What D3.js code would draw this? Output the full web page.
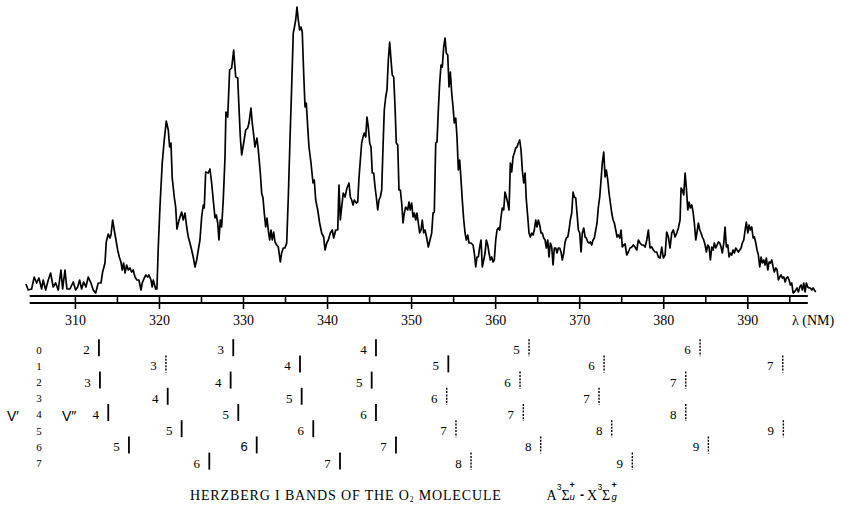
<!DOCTYPE html>
<html><head><meta charset="utf-8">
<script src="https://cdn.jsdelivr.net/npm/d3@7"></script>
<style>body{margin:0;background:#fff} svg{display:block}</style>
</head><body><svg id="chart" width="841" height="520"></svg>
<script>
// ---- DATA ----
const wavelength = [
304.17,304.45,304.85,305.16,305.45,305.72,306.04,306.23,306.52,306.83,
307.11,307.42,307.71,308.02,308.34,308.54,308.82,309.05,309.41,309.80,
310.09,310.33,310.56,310.80,311.04,311.31,311.59,311.91,312.18,312.47,
312.78,313.10,313.30,313.58,313.73,313.97,314.17,314.29,314.49,314.68,
314.85,315.09,315.28,315.48,315.63,315.80,315.96,316.16,316.35,316.55,
316.75,316.94,317.15,317.38,317.62,317.86,318.01,318.25,318.45,318.66,
318.81,319.05,319.20,319.32,319.61,319.76,319.92,320.12,320.39,320.63,
320.87,321.11,321.27,321.43,321.58,321.82,321.99,322.14,322.30,322.50,
322.70,322.89,323.10,323.30,323.49,323.69,323.89,324.08,324.29,324.49,
324.68,324.88,325.08,325.27,325.39,325.56,325.87,326.07,326.27,326.46,
326.67,326.82,326.99,327.14,327.30,327.46,327.65,327.86,
327.97,328.18,328.41,328.65,328.89,329.13,329.37,329.52,329.68,329.84,
330.08,330.32,330.56,330.71,330.95,331.10,331.27,331.42,331.66,331.82,
332.06,332.22,332.38,332.53,332.70,332.85,333.01,333.17,333.33,333.48,
333.65,333.81,334.01,334.20,334.44,334.60,334.79,334.99,335.20,335.39,
335.59,335.79,335.98,336.10,336.27,336.42,336.58,336.74,336.90,337.05,
337.22,337.38,337.53,337.70,337.85,338.09,338.33,338.48,338.65,338.89,
339.12,339.36,339.60,339.76,339.96,340.15,340.39,340.62,340.79,341.03,
341.27,341.42,341.58,341.74,341.93,342.14,342.37,342.61,342.77,342.93,
343.09,343.24,343.48,343.65,343.80,343.96,344.12,344.28,344.43,344.60,
344.75,344.91,345.07,345.23,345.38,345.55,345.71,345.86,346.03,346.18,
346.34,346.50,346.66,346.81,346.98,347.13,347.29,347.45,347.61,347.76,
347.93,348.09,348.24,348.41,348.56,348.72,348.88,349.04,349.19,349.36,
349.60,349.75,349.90,350.07,350.23,350.38,350.55,350.70,350.86,351.02,
351.18,351.33,351.50,351.66,351.86,352.05,352.25,352.45,352.61,352.76,
352.93,353.08,353.24,353.40,353.56,353.71,353.88,354.04,354.19,354.36,
354.51,354.67,354.83,354.99,355.14,355.31,355.46,355.62,355.78,355.94,
356.09,356.26,356.42,356.57,356.74,356.89,357.13,357.37,357.52,357.69,
357.84,358.00,358.16,358.32,358.47,358.64,358.80,358.95,359.12,359.27,
359.43,359.59,359.75,359.90,360.07,360.22,360.38,360.54,360.70,360.85,
361.02,361.17,361.33,361.50,361.65,361.81,361.97,362.13,362.28,362.45,
362.60,362.76,362.92,363.08,363.23,363.40,363.56,363.71,363.88,364.03,
364.19,364.35,364.51,364.66,364.83,364.98,365.14,365.30,365.46,365.61,
365.78,365.94,366.09,366.26,366.41,366.57,366.73,366.89,367.04,367.21,
367.36,367.52,367.68,367.84,367.99,368.16,368.32,368.47,368.64,368.79,
368.94,369.11,369.27,369.42,369.59,369.74,369.90,370.06,370.22,370.37,
370.54,370.70,370.85,371.02,371.17,371.33,371.49,371.65,371.80,371.97,
372.12,372.28,372.44,372.60,372.75,372.92,373.08,373.23,373.40,373.55,
373.71,373.87,374.03,374.18,374.35,374.50,374.66,374.82,374.98,375.13,
375.30,375.46,375.66,375.85,376.05,376.26,376.44,376.64,376.85,377.04,
377.24,377.44,377.63,377.84,378.04,378.23,378.43,378.63,378.82,379.02,
379.22,379.42,379.62,379.82,380.01,380.22,380.41,380.61,380.81,381.01,
381.20,381.41,381.61,381.80,382.00,382.12,382.27,382.44,382.60,382.75,
382.92,383.07,383.23,383.39,383.55,383.70,383.87,384.02,384.18,384.34,
384.50,384.65,384.82,384.98,385.13,385.30,385.45,385.61,385.77,385.93,
386.08,386.25,386.40,386.56,386.72,386.88,387.03,387.20,387.35,387.51,
387.68,387.83,387.99,388.15,388.31,388.46,388.63,388.78,388.94,389.10,
389.26,389.41,389.58,389.74,389.89,390.06,390.21,390.37,390.53,390.69,
390.84,391.01,391.16,391.32,391.48,391.64,391.79,391.96,392.12,392.27,
392.44,392.59,392.74,392.91,393.07,393.22,393.39,393.54,393.70,393.86,
394.02,394.17,394.34,394.50,394.65,394.82,394.97,395.13,395.29,395.45,
395.60,395.77,395.92,396.08,396.24,396.40,396.55,396.72,396.87,397.03,
397.19,397.35,397.50,397.67,397.83,397.98,398.14
];
const intensity = [
12,6,7,19,13,18,7,16,6,16,
23,9,13,6,26,7,26,7,7,14,
6,9,16,7,14,9,19,13,6,3,
13,13,24,33,54,62,58,61,76,66,
58,46,39,34,26,33,23,31,26,28,
24,26,19,16,16,6,13,18,21,19,
21,16,9,16,7,7,49,89,133,156,
175,166,149,153,118,99,89,67,73,79,
84,76,83,69,59,53,46,39,29,36,
46,56,79,91,88,124,123,127,113,96,
78,81,73,56,76,69,96,139,
184,179,226,228,246,219,218,189,159,141,
153,166,168,173,188,173,161,149,158,146,
123,103,98,83,69,78,66,56,66,56,
64,54,51,49,34,43,48,48,53,99,
156,209,263,268,276,289,276,266,269,264,
223,189,193,169,149,133,113,116,96,86,
73,63,59,46,53,56,63,66,58,66,
66,111,76,89,103,99,108,113,99,96,
91,96,93,94,118,136,153,159,163,159,
179,169,153,149,123,123,109,99,86,96,
99,106,149,186,199,206,236,254,236,221,
219,189,153,151,106,106,93,73,83,89,
86,94,86,93,79,83,76,83,73,63,
66,76,63,66,58,49,56,63,83,84,
153,154,186,213,231,229,249,258,243,241,
209,224,203,189,173,178,159,126,136,116,
96,76,63,56,61,53,53,51,43,29,
39,39,49,56,29,36,43,56,51,43,
36,39,34,36,56,66,68,66,79,88,
86,104,99,93,86,133,124,139,143,148,
149,153,156,146,126,113,123,96,79,63,
59,63,61,66,76,69,76,71,63,63,
58,56,48,56,39,53,49,31,48,48,
43,48,48,44,36,43,54,58,59,66,
76,83,104,99,98,83,66,63,44,63,
68,59,58,54,53,54,51,56,58,66,
73,89,99,116,133,144,119,126,116,103,
93,83,76,73,66,59,61,58,66,49,
51,52,41,44,48,49,51,49,46,56,
53,51,51,49,56,66,48,49,46,44,
44,39,38,49,38,41,64,59,48,63,
66,59,63,68,76,108,106,101,123,108,
86,94,88,91,84,73,56,64,73,66,
63,59,56,51,44,51,49,36,49,46,
53,48,51,54,53,49,43,53,69,49,
51,39,43,41,46,43,48,46,44,46,
48,53,56,66,74,63,71,66,69,58,
59,53,46,41,29,39,33,36,31,38,
26,34,33,36,29,24,28,26,16,19,
21,18,19,14,18,19,16,11,13,3,
4,6,8,4,9,11,6,13,4,13,
9,8,8,6,8,6,4
];
const majorTicks = [310,320,330,340,350,360,370,380,390];
const minorTicks = [315,325,335,345,355,365,375,385,395];
const tickLabels = ["310","320","330","340","350","360","370","380","390"];
const axisUnit = "λ (NM)";
const vPrimeLevels = [0,1,2,3,4,5,6,7];
// Herzberg I band heads: v', v'', wavelength (nm), observed (1 solid) / weak (0 dashed)
const bandVPrime       = [0,0,0,0,0, 1,1,1,1,1, 2,2,2,2,2, 3,3,3,3, 4,4,4,4,4, 5,5,5,5,5, 6,6,6,6,6, 7,7,7,7];
const bandVDoublePrime = [2,3,4,5,6, 3,4,5,6,7, 3,4,5,6,7, 4,5,6,7, 4,5,6,7,8, 5,6,7,8,9, 5,6,7,8,9, 6,7,8,9];
const bandHeadNm = [
312.86,328.84,345.82,364.03,384.38,
320.83,336.78,354.43,372.96,394.22,
312.98,328.53,345.31,362.96,382.68,
321.04,336.98,354.24,372.36,
313.97,329.44,345.82,363.35,382.68,
322.70,338.36,355.34,373.87,394.29,
316.43,331.63,348.20,365.42,385.37,
325.99,341.54,357.13,376.32];
const bandObserved = [
1,1,1,0,0,
0,1,1,0,0,
1,1,1,0,0,
1,1,0,0,
1,1,1,0,0,
1,1,0,0,0,
1,1,1,0,0,
1,1,0,0];
const titleMain = "HERZBERG I BANDS OF THE O";
const titleSub = "2";
const titleEnd = " MOLECULE";
const vPrimeLabel = "V\u2032";
const vDoublePrimeLabel = "V\u2033";

// ---- DRAWING ----
const SERIF = "'Liberation Serif','Times New Roman',Times,serif";
const SANS = "'Liberation Sans',Arial,Helvetica,sans-serif";
const svg = d3.select("#chart");

const x = d3.scaleLinear().domain([310, 390]).range([74.9, 747.3]);
const y = d3.scaleLinear().domain([0, 290]).range([296, 6]);
const axisY = 296, axisGap = 7;
const axisExtent = [304.62, 397.2];

// spectrum trace
svg.append("path")
  .datum(d3.zip(wavelength, intensity))
  .attr("fill", "none").attr("stroke", "#000")
  .attr("stroke-width", 1.7).attr("stroke-linejoin", "round")
  .attr("d", d3.line().x(d => x(d[0])).y(d => y(d[1])));

// double axis rule
[axisY, axisY + axisGap].forEach(yy => {
  svg.append("line")
    .attr("x1", x(axisExtent[0])).attr("x2", x(axisExtent[1]))
    .attr("y1", yy).attr("y2", yy)
    .attr("stroke", "#000").attr("stroke-width", 2);
});

// major ticks + labels
const gMajor = svg.append("g").attr("transform", `translate(0,${axisY})`)
  .call(d3.axisBottom(x).tickValues(majorTicks).tickSize(13).tickPadding(6)
    .tickFormat((d, i) => tickLabels[i]));
gMajor.select(".domain").remove();
gMajor.attr("font-family", SERIF).attr("font-size", 14);
gMajor.selectAll(".tick line").attr("stroke", "#000").attr("stroke-width", 1.6);
gMajor.selectAll(".tick text").attr("fill", "#000")
  .attr("font-family", SERIF).attr("font-size", 14);

// minor ticks (between the two rules)
const gMinor = svg.append("g").attr("transform", `translate(0,${axisY})`)
  .call(d3.axisBottom(x).tickValues(minorTicks).tickSize(axisGap).tickFormat(""));
gMinor.select(".domain").remove();
gMinor.selectAll(".tick line").attr("stroke", "#000").attr("stroke-width", 1.6);

svg.append("text").attr("x", 792).attr("y", 325)
  .attr("font-family", SERIF).attr("font-size", 14).attr("fill", "#000")
  .text(axisUnit);

// band table
const rowY = d3.scaleLinear().domain([0, 7]).range([349.7, 463.1]);

svg.append("g").selectAll("text").data(vPrimeLevels).join("text")
  .attr("x", 39).attr("y", d => rowY(d)).attr("dy", "0.35em")
  .attr("text-anchor", "middle")
  .attr("font-family", SERIF).attr("font-size", 11).attr("fill", "#000")
  .text(d => d);

svg.append("text").attr("x", 7).attr("y", rowY(4) + 1.5).attr("dy", "0.35em")
  .attr("font-family", SANS).attr("font-size", 14).attr("fill", "#000").text(vPrimeLabel);
svg.append("text").attr("x", 62).attr("y", rowY(4) + 1.5).attr("dy", "0.35em")
  .attr("font-family", SANS).attr("font-size", 14).attr("fill", "#000").text(vDoublePrimeLabel);

const bands = bandHeadNm.map((nm, i) => ({
  nm, vp: bandVPrime[i], vpp: bandVDoublePrime[i], obs: bandObserved[i]
}));
const gBands = svg.append("g");
const bg = gBands.selectAll("g").data(bands).join("g");
bg.append("line")
  .attr("x1", d => x(d.nm)).attr("x2", d => x(d.nm))
  .attr("y1", d => rowY(d.vp) - 10.5).attr("y2", d => rowY(d.vp) + 6.5)
  .attr("stroke", "#000")
  .attr("stroke-width", d => d.obs ? 1.8 : 1.4)
  .attr("stroke-dasharray", d => d.obs ? null : "2,1.3");
bg.append("text")
  .attr("x", d => x(d.nm) - 12.5).attr("y", d => rowY(d.vp)).attr("dy", "0.35em")
  .attr("text-anchor", "middle")
  .attr("font-family", d => (d.vp === 6 && d.vpp === 6) ? SANS : SERIF)
  .attr("font-size", 13).attr("fill", "#000")
  .text(d => d.vpp);

// title
const t = svg.append("text").attr("x", 190).attr("y", 499.5)
  .attr("font-family", SERIF).attr("font-size", 14).attr("letter-spacing", 0.85)
  .attr("fill", "#000");
t.append("tspan").text(titleMain);
t.append("tspan").attr("font-size", 7.5).attr("dy", 2).text(titleSub);
t.append("tspan").attr("dy", -2).text(titleEnd);

// term symbol  A3Σu+ - X3Σg+
function piece(px, py, txt, fam, size, style, weight) {
  svg.append("text").attr("x", px).attr("y", py)
    .attr("font-family", fam).attr("font-size", size)
    .attr("font-style", style || "normal").attr("font-weight", weight || "normal")
    .attr("fill", "#000").text(txt);
}
piece(546.5, 499.5, "A", SERIF, 14);
piece(556.8, 490, "3", SANS, 8.5);
piece(561.5, 499.5, "\u03A3", SERIF, 14);
piece(569.5, 487.5, "+", SANS, 9, "normal", "bold");
piece(569.5, 500, "u", SANS, 9.5, "italic");
piece(580, 499, "-", SANS, 12, "normal", "bold");
piece(587, 499.5, "X", SERIF, 14);
piece(597.5, 490, "3", SANS, 8.5);
piece(602, 499.5, "\u03A3", SERIF, 14);
piece(611.5, 487.5, "+", SANS, 9, "normal", "bold");
piece(611.5, 499.5, "g", SANS, 9.5, "italic");
</script>
</body></html>
